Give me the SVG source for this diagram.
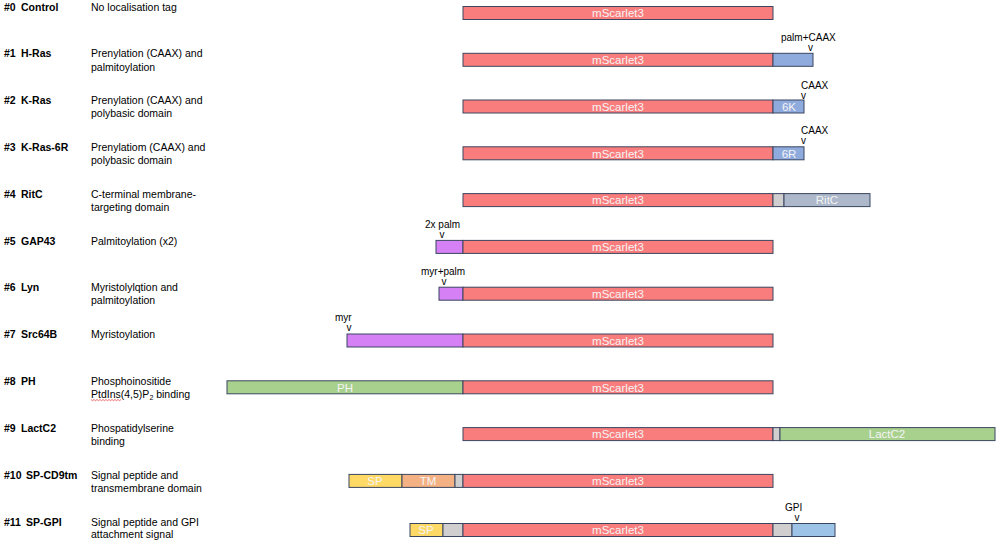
<svg xmlns="http://www.w3.org/2000/svg" width="1000" height="540" viewBox="0 0 1000 540">
<style>
text{font-family:"Liberation Sans",Arial,sans-serif;}
.id{font-size:10.5px;font-weight:bold;fill:#000;}
.ds{font-size:10.5px;fill:#000;}
.an{font-size:10px;fill:#000;}
.in{font-size:11.5px;fill:#f4f4f4;text-anchor:middle;}
.b{stroke:#3a4660;stroke-width:1;}
.ms{fill:#fa7d7d;}
.bl{fill:#8faadc;}
.gr{fill:#d0cece;}
.rc{fill:#adb9ca;}
.pu{fill:#d580f5;}
.gn{fill:#a9d18e;}
.sp{fill:#ffd966;}
.tm{fill:#f4b183;}
.gp{fill:#9dc3e6;}
</style>
<rect width="1000" height="540" fill="#fff"/>

<g id="row0">
<text class="id" x="4" y="11">#0</text><text class="id" x="21" y="11">Control</text>
<text class="ds" x="91" y="11">No localisation tag</text>
<rect class="b ms" x="463" y="6.5" width="310" height="13"/><text class="in" x="618" y="17.2">mScarlet3</text>
</g>

<g id="row1">
<text class="id" x="4" y="57">#1</text><text class="id" x="21" y="57">H-Ras</text>
<text class="ds" x="91" y="57">Prenylation (CAAX) and</text><text class="ds" x="91" y="70.5">palmitoylation</text>
<rect class="b ms" x="463" y="53.3" width="310" height="13"/><text class="in" x="618" y="64">mScarlet3</text>
<rect class="b bl" x="773" y="53.3" width="40" height="13"/>
<text class="an" x="781" y="40.5">palm+CAAX</text><text class="an" x="808" y="51">v</text>
</g>

<g id="row2">
<text class="id" x="4" y="104">#2</text><text class="id" x="21" y="104">K-Ras</text>
<text class="ds" x="91" y="104">Prenylation (CAAX) and</text><text class="ds" x="91" y="117">polybasic domain</text>
<rect class="b ms" x="463" y="100" width="310" height="13"/><text class="in" x="618" y="110.7">mScarlet3</text>
<rect class="b bl" x="773" y="100" width="31" height="13"/><text class="in" x="789" y="110.7">6K</text>
<text class="an" x="801" y="88.5">CAAX</text><text class="an" x="801" y="98.5">v</text>
</g>

<g id="row3">
<text class="id" x="4" y="151">#3</text><text class="id" x="21" y="151">K-Ras-6R</text>
<text class="ds" x="91" y="151">Prenylatiom (CAAX) and</text><text class="ds" x="91" y="164">polybasic domain</text>
<rect class="b ms" x="463" y="146.8" width="310" height="13"/><text class="in" x="618" y="157.5">mScarlet3</text>
<rect class="b bl" x="773" y="146.8" width="31" height="13"/><text class="in" x="789" y="157.5">6R</text>
<text class="an" x="801" y="134">CAAX</text><text class="an" x="801" y="144">v</text>
</g>

<g id="row4">
<text class="id" x="4" y="198">#4</text><text class="id" x="21" y="198">RitC</text>
<text class="ds" x="91" y="198">C-terminal membrane-</text><text class="ds" x="91" y="211">targeting domain</text>
<rect class="b ms" x="463" y="193.6" width="310" height="13"/><text class="in" x="618" y="204.3">mScarlet3</text>
<rect class="b gr" x="773" y="193.6" width="11" height="13"/>
<rect class="b rc" x="784" y="193.6" width="86" height="13"/><text class="in" x="827" y="204.3">RitC</text>
</g>

<g id="row5">
<text class="id" x="4" y="245">#5</text><text class="id" x="21" y="245">GAP43</text>
<text class="ds" x="91" y="245">Palmitoylation (x2)</text>
<rect class="b pu" x="436" y="240.4" width="27" height="13"/>
<rect class="b ms" x="463" y="240.4" width="310" height="13"/><text class="in" x="618" y="251.1">mScarlet3</text>
<text class="an" x="425" y="228">2x palm</text><text class="an" x="439.5" y="238">v</text>
</g>

<g id="row6">
<text class="id" x="4" y="291">#6</text><text class="id" x="21" y="291">Lyn</text>
<text class="ds" x="91" y="291">Myristolylqtion and</text><text class="ds" x="91" y="304">palmitoylation</text>
<rect class="b pu" x="439" y="287.2" width="24" height="13"/>
<rect class="b ms" x="463" y="287.2" width="310" height="13"/><text class="in" x="618" y="297.9">mScarlet3</text>
<text class="an" x="421" y="275">myr+palm</text><text class="an" x="441.5" y="285">v</text>
</g>

<g id="row7">
<text class="id" x="4" y="338">#7</text><text class="id" x="21" y="338">Src64B</text>
<text class="ds" x="91" y="338">Myristoylation</text>
<rect class="b pu" x="347" y="334" width="116" height="13"/>
<rect class="b ms" x="463" y="334" width="310" height="13"/><text class="in" x="618" y="344.7">mScarlet3</text>
<text class="an" x="335" y="320.5">myr</text><text class="an" x="346.5" y="330.5">v</text>
</g>

<g id="row8">
<text class="id" x="4" y="385">#8</text><text class="id" x="21" y="385">PH</text>
<text class="ds" x="91" y="385">Phosphoinositide</text>
<text class="ds" x="91" y="397.5">PtdIns(4,5)P<tspan font-size="7" dy="2.5">2</tspan><tspan dy="-2.5"> binding</tspan></text>
<path d="M91,399.5 l1.5,1.2 l1.5,-1.2 l1.5,1.2 l1.5,-1.2 l1.5,1.2 l1.5,-1.2 l1.5,1.2 l1.5,-1.2 l1.5,1.2 l1.5,-1.2 l1.5,1.2 l1.5,-1.2 l1.5,1.2 l1.5,-1.2 l1.5,1.2 l1.5,-1.2 l1.5,1.2 l1.5,-1.2 l1.5,1.2 l1.5,-1.2" fill="none" stroke="#e03030" stroke-width="0.7"/>
<rect class="b gn" x="227" y="380.8" width="236" height="13"/><text class="in" x="345" y="391.5">PH</text>
<rect class="b ms" x="463" y="380.8" width="310" height="13"/><text class="in" x="618" y="391.5">mScarlet3</text>
</g>

<g id="row9">
<text class="id" x="4" y="432">#9</text><text class="id" x="21" y="432">LactC2</text>
<text class="ds" x="91" y="432">Phospatidylserine</text><text class="ds" x="91" y="445">binding</text>
<rect class="b ms" x="463" y="427.6" width="310" height="13"/><text class="in" x="618" y="438.3">mScarlet3</text>
<rect class="b gr" x="773" y="427.6" width="7" height="13"/>
<rect class="b gn" x="780" y="427.6" width="215" height="13"/><text class="in" x="887" y="438.3">LactC2</text>
</g>

<g id="row10">
<text class="id" x="4" y="479">#10</text><text class="id" x="26" y="479">SP-CD9tm</text>
<text class="ds" x="91" y="479">Signal peptide and</text><text class="ds" x="91" y="492">transmembrane domain</text>
<rect class="b sp" x="349" y="474.4" width="53" height="13"/><text class="in" x="375" y="485.1">SP</text>
<rect class="b tm" x="402" y="474.4" width="53" height="13"/><text class="in" x="428" y="485.1">TM</text>
<rect class="b gr" x="455" y="474.4" width="8" height="13"/>
<rect class="b ms" x="463" y="474.4" width="310" height="13"/><text class="in" x="618" y="485.1">mScarlet3</text>
</g>

<g id="row11">
<text class="id" x="4" y="526">#11</text><text class="id" x="26" y="526">SP-GPI</text>
<text class="ds" x="91" y="526">Signal peptide and GPI</text><text class="ds" x="91" y="537.5">attachment signal</text>
<rect class="b sp" x="410" y="523.5" width="33" height="13"/><text class="in" x="426" y="534.2">SP</text>
<rect class="b gr" x="443" y="523.5" width="20" height="13"/>
<rect class="b ms" x="463" y="523.5" width="310" height="13"/><text class="in" x="618" y="534.2">mScarlet3</text>
<rect class="b gr" x="773" y="523.5" width="19" height="13"/>
<rect class="b gp" x="792" y="523.5" width="43" height="13"/>
<text class="an" x="785" y="511">GPI</text><text class="an" x="794.5" y="521">v</text>
</g>
</svg>
